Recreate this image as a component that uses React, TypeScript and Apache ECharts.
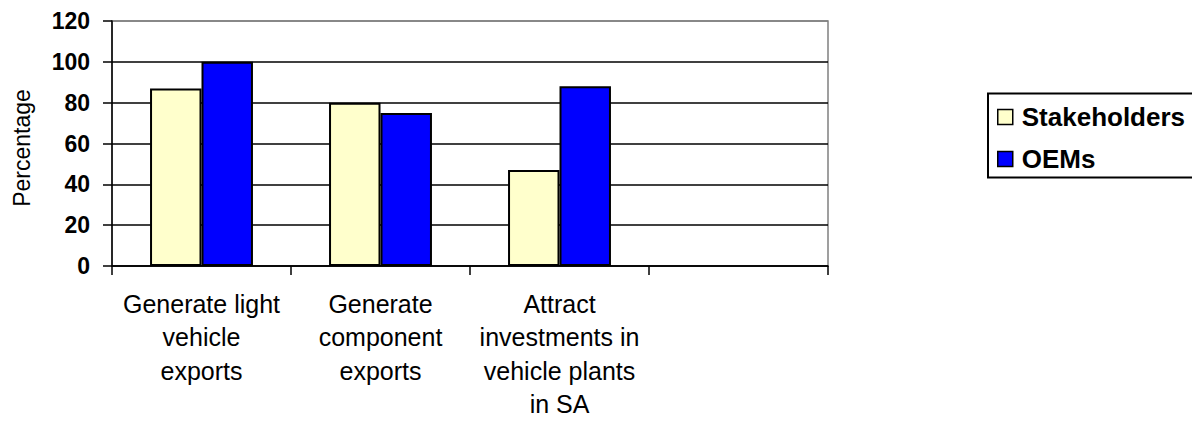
import React, { useEffect, useRef } from "react";
import * as echarts from "echarts";

const categories = [
  "Generate light\nvehicle\nexports",
  "Generate\ncomponent\nexports",
  "Attract\ninvestments in\nvehicle plants\nin SA",
  "",
];
const stakeholders = [87, 80, 47, null];
const oems = [100, 75, 88, null];
const seriesNames = ["Stakeholders", "OEMs"];
const yTicks = { min: 0, max: 120, interval: 20 };
const yAxisTitle = "Percentage";

const FONT = "'Liberation Sans', Arial, Helvetica, sans-serif";

export default function App() {
  const ref = useRef<HTMLDivElement>(null);
  useEffect(() => {
    if (!ref.current) return;
    const chart = echarts.init(ref.current, undefined, { renderer: "svg" });
    const splitColors = ["#000", "#000", "#000", "#000", "#000", "#000", "#808080"];
    chart.setOption({
      animation: false,
      backgroundColor: "#fff",
      grid: {
        left: 112,
        top: 21,
        right: 364,
        bottom: 154,
        show: true,
        borderColor: "#808080",
        borderWidth: 1.5,
        backgroundColor: "transparent",
      },
      legend: {
        data: seriesNames,
        orient: "vertical",
        left: 997,
        top: 104,
        padding: 0,
        itemWidth: 15,
        itemHeight: 15,
        itemGap: 16,
        icon: "rect",
        itemStyle: { borderColor: "#000", borderWidth: 1.5 },
        textStyle: {
          fontFamily: FONT,
          fontSize: 26,
          fontWeight: "bold",
          color: "#000",
          padding: [0, 0, 0, 4],
        },
      },
      graphic: [
        {
          type: "rect",
          shape: { x: 988, y: 93.5, width: 230, height: 84 },
          style: { fill: "none", stroke: "#000", lineWidth: 2 },
        },
        {
          type: "text",
          x: 21.5,
          y: 148,
          rotation: Math.PI / 2,
          style: {
            text: yAxisTitle,
            fontFamily: FONT,
            fontSize: 23,
            fill: "#000",
            align: "center",
            verticalAlign: "middle",
          },
        },
      ],
      xAxis: {
        type: "category",
        data: categories,
        boundaryGap: true,
        axisLine: { lineStyle: { color: "#000", width: 1.5 } },
        axisTick: { show: true, length: 9, lineStyle: { color: "#000", width: 1.5 } },
        axisLabel: {
          interval: 0,
          margin: 21,
          fontFamily: FONT,
          fontSize: 25,
          lineHeight: 33.5,
          color: "#000",
          align: "center",
        },
        splitLine: { show: false },
      },
      yAxis: {
        type: "value",
        min: yTicks.min,
        max: yTicks.max,
        interval: yTicks.interval,
        axisLine: { show: true, lineStyle: { color: "#000", width: 1.5 } },
        axisTick: { show: true, length: 9, lineStyle: { color: "#000", width: 1.5 } },
        axisLabel: {
          margin: 22,
          fontFamily: FONT,
          fontSize: 23,
          fontWeight: "bold",
          color: "#000",
        },
        splitLine: { show: true, lineStyle: { color: splitColors, width: 1.5 } },
      },
      series: [
        {
          name: seriesNames[0],
          type: "bar",
          data: stakeholders,
          barGap: "0%",
          barCategoryGap: "42.5%",
          itemStyle: { color: "#FFFFCC", borderColor: "#000", borderWidth: 2 },
        },
        {
          name: seriesNames[1],
          type: "bar",
          data: oems,
          barGap: "0%",
          barCategoryGap: "42.5%",
          itemStyle: { color: "#0000FF", borderColor: "#000", borderWidth: 2 },
        },
      ],
    });
    return () => chart.dispose();
  }, []);
  return (
    <div
      ref={ref}
      style={{ position: "fixed", left: 0, top: 0, width: 1192, height: 421 }}
    />
  );
}
